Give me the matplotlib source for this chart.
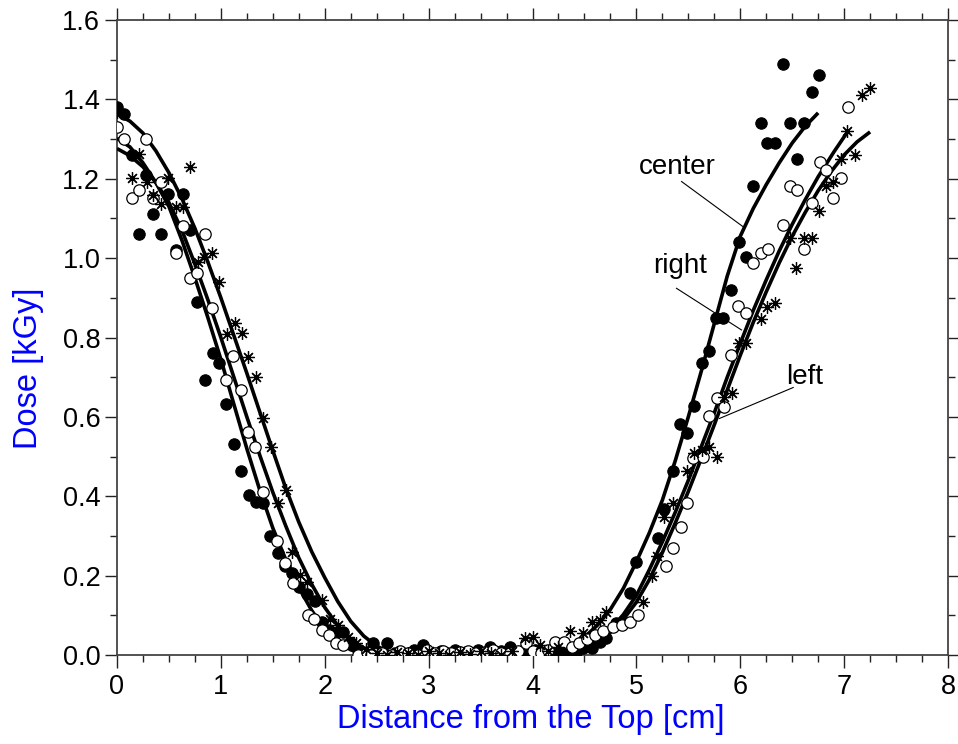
import numpy as np
import matplotlib
matplotlib.use("Agg")
import matplotlib.pyplot as plt
from matplotlib.ticker import MultipleLocator, FormatStrFormatter

plt.rcParams['font.family'] = ['Liberation Sans', 'DejaVu Sans']

# ---- fitted dose profiles ----
center_x = [0, 0.125, 0.25, 0.375, 0.5, 0.625, 0.75, 0.875, 1.0, 1.125, 1.25, 1.375, 1.5,
            1.625, 1.75, 1.875, 2.0, 2.125, 2.25, 2.375, 2.5, 2.625, 2.75, 3.0, 3.5, 4.0,
            4.125, 4.25, 4.375, 4.5, 4.625, 4.75, 4.875, 5.0, 5.125, 5.25, 5.375, 5.5, 5.625,
            5.75, 5.875, 6.0, 6.125, 6.25, 6.375, 6.5, 6.625, 6.75]
center_y = [1.363, 1.345, 1.315, 1.27, 1.215, 1.15, 1.075, 0.99, 0.9, 0.805, 0.71, 0.612, 0.515,
            0.42, 0.335, 0.26, 0.195, 0.135, 0.085, 0.048, 0.022, 0.008, 0.002, 0.0, 0.0, 0.0,
            0.003, 0.01, 0.024, 0.045, 0.075, 0.115, 0.168, 0.235, 0.308, 0.39, 0.49, 0.6, 0.715,
            0.835, 0.955, 1.055, 1.125, 1.185, 1.24, 1.29, 1.332, 1.366]

right_x = [0, 0.125, 0.25, 0.375, 0.5, 0.625, 0.75, 0.875, 1.0, 1.125, 1.25, 1.375, 1.5,
           1.625, 1.75, 1.875, 2.0, 2.125, 2.25, 2.375, 2.5, 3.0, 3.5, 4.0, 4.25, 4.375,
           4.5, 4.625, 4.75, 4.875, 5.0, 5.125, 5.25, 5.375, 5.5, 5.625, 5.75, 5.875, 6.0,
           6.125, 6.25, 6.375, 6.5, 6.625, 6.75, 6.9, 7.04]
right_y = [1.302, 1.28, 1.24, 1.19, 1.13, 1.045, 0.95, 0.85, 0.745, 0.632, 0.52, 0.415, 0.32,
           0.24, 0.17, 0.112, 0.065, 0.033, 0.013, 0.003, 0.0, 0.0, 0.0, 0.0, 0.003, 0.01,
           0.022, 0.04, 0.065, 0.102, 0.15, 0.215, 0.285, 0.36, 0.44, 0.525, 0.61, 0.70, 0.785,
           0.868, 0.945, 1.018, 1.085, 1.147, 1.205, 1.267, 1.321]

left_x = [0, 0.125, 0.25, 0.375, 0.5, 0.625, 0.75, 0.875, 1.0, 1.125, 1.25, 1.375, 1.5,
          1.625, 1.75, 1.875, 2.0, 2.125, 2.25, 2.375, 2.5, 2.625, 2.75, 3.0, 3.5, 4.0,
          4.25, 4.375, 4.5, 4.625, 4.75, 4.875, 5.0, 5.125, 5.25, 5.375, 5.5, 5.625, 5.75,
          5.875, 6.0, 6.125, 6.25, 6.375, 6.5, 6.625, 6.75, 6.875, 7.0, 7.125, 7.25]
left_y = [1.276, 1.258, 1.23, 1.19, 1.14, 1.07, 0.985, 0.895, 0.8, 0.7, 0.6, 0.503, 0.41,
          0.325, 0.245, 0.178, 0.12, 0.074, 0.04, 0.017, 0.006, 0.001, 0.0, 0.0, 0.0, 0.0,
          0.001, 0.006, 0.016, 0.033, 0.057, 0.09, 0.133, 0.19, 0.258, 0.333, 0.412, 0.495, 0.58,
          0.668, 0.755, 0.838, 0.915, 0.988, 1.055, 1.115, 1.17, 1.218, 1.26, 1.293, 1.318]

# ---- measured doses ----
# center position (filled circles)
meas_center_x = [0.0, 0.067, 0.141, 0.279, 0.35, 0.494, 0.632, 0.215, 0.423, 0.703, 0.565, 0.773,
                 0.921, 0.982, 0.844, 1.052, 1.123, 1.197, 1.267, 1.335, 1.405, 1.476, 1.546,
                 1.617, 1.687, 1.755, 1.829, 1.902, 1.973, 2.044, 2.114, 2.178, 2.249, 2.322,
                 2.467, 2.595, 2.676, 2.75, 2.8, 2.86, 2.95, 3.0, 3.05, 3.12, 3.18, 3.25, 3.3,
                 3.36, 3.42, 3.48, 3.55, 3.59, 3.65, 3.7, 3.78, 3.84, 3.9, 3.96, 4.02, 4.08,
                 4.14, 4.2, 4.28, 4.35, 4.42, 4.49, 4.57, 4.65, 4.71, 4.8, 4.94, 5.0, 5.21,
                 5.27, 5.355, 5.417, 5.49, 5.556, 5.627, 5.697, 5.765, 5.835, 5.907, 5.986,
                 6.054, 6.118, 6.195, 6.262, 6.339, 6.407, 6.477, 6.548, 6.615, 6.686, 6.757]
meas_center_y = [1.381, 1.362, 1.26, 1.209, 1.11, 1.161, 1.161, 1.061, 1.061, 1.071, 1.02, 0.89,
                 0.76, 0.735, 0.693, 0.632, 0.532, 0.464, 0.404, 0.385, 0.384, 0.301, 0.257,
                 0.224, 0.207, 0.172, 0.154, 0.137, 0.084, 0.063, 0.059, 0.057, 0.031, 0.013,
                 0.029, 0.029, 0.006, 0.005, 0.0, 0.012, 0.025, 0.008, 0.0, 0.01, 0.005, 0.012, 0.0,
                 0.008, 0.004, 0.012, 0.006, 0.019, 0.005, 0.01, 0.019, 0.006, 0.01, 0.003, 0.012, 0.005,
                 0.0, 0.008, 0.005, 0.012, 0.008, 0.017, 0.017, 0.034, 0.042, 0.08, 0.155, 0.235, 0.296,
                 0.367, 0.464, 0.582, 0.559, 0.628, 0.737, 0.766, 0.848, 0.848, 0.92, 1.041,
                 1.002, 1.182, 1.341, 1.291, 1.291, 1.49, 1.341, 1.251, 1.341, 1.419, 1.461]

# right position (open circles)
meas_right_x = [0.0, 0.07, 0.279, 0.141, 0.215, 0.42, 0.35, 0.632, 0.847, 0.565, 0.703, 0.773,
                0.918, 1.12, 1.05, 1.197, 1.261, 1.331, 1.405, 1.537, 1.617, 1.697, 1.84, 1.9,
                1.97, 2.037, 2.108, 2.178, 2.32, 2.403, 2.45, 2.55, 2.65, 2.72, 2.8, 2.9, 2.98,
                3.06, 3.14, 3.22, 3.3, 3.38, 3.46, 3.54, 3.62, 3.7, 3.78, 3.86, 3.94, 4.0, 4.08,
                4.15, 4.215, 4.3, 4.38, 4.45, 4.52, 4.6, 4.68, 4.777, 4.857, 4.937, 5.017,
                5.29, 5.348, 5.425, 5.483, 5.547, 5.637, 5.697, 5.772, 5.842, 5.907, 5.98,
                6.054, 6.124, 6.198, 6.268, 6.407, 6.477, 6.551, 6.615, 6.686, 6.766, 6.83,
                6.894, 6.97, 7.04]
meas_right_y = [1.331, 1.299, 1.299, 1.152, 1.172, 1.191, 1.152, 1.082, 1.061, 1.012, 0.951, 0.962,
                0.874, 0.754, 0.693, 0.668, 0.563, 0.523, 0.41, 0.286, 0.231, 0.181, 0.101, 0.09,
                0.063, 0.05, 0.031, 0.025, 0.0, 0.008, 0.0, 0.006, 0.0, 0.01, 0.004, 0.0, 0.012,
                0.006, 0.01, 0.004, 0.008, 0.01, 0.004, 0.008, 0.012, 0.006, 0.004, 0.01, 0.03, 0.01, 0.006,
                0.012, 0.034, 0.034, 0.02, 0.03, 0.04, 0.05, 0.06, 0.071, 0.076, 0.084, 0.101,
                0.223, 0.269, 0.322, 0.384, 0.496, 0.5, 0.601, 0.647, 0.626, 0.756, 0.879,
                0.861, 0.988, 1.014, 1.023, 1.083, 1.182, 1.172, 1.023, 1.14, 1.243, 1.222,
                1.152, 1.203, 1.381]

# left position (asterisks)
meas_left_x = [0.0, 0.215, 0.141, 0.286, 0.494, 0.703, 0.35, 0.423, 0.565, 0.632, 0.776, 0.837,
               0.914, 0.985, 1.056, 1.136, 1.2, 1.264, 1.335, 1.408, 1.479, 1.623, 1.553, 1.688,
               1.761, 1.832, 1.97, 2.05, 2.13, 2.226, 2.3, 2.4, 2.5, 2.6, 2.7, 2.8, 2.9, 3.0,
               3.1, 3.2, 3.3, 3.4, 3.5, 3.6, 3.7, 3.8, 3.927, 4.007, 4.07, 4.15, 4.25, 4.36,
               4.49, 4.57, 4.65, 4.71, 5.065, 5.15, 5.2, 5.27, 5.355, 5.483, 5.553, 5.627, 5.7,
               5.772, 5.842, 5.917, 5.99, 6.06, 6.198, 6.259, 6.333, 6.477, 6.54, 6.61, 6.686,
               6.757, 6.824, 6.894, 6.968, 7.03, 7.106, 7.176, 7.247]
meas_left_y = [1.369, 1.262, 1.201, 1.193, 1.201, 1.229, 1.159, 1.136, 1.13, 1.13, 0.991, 1.004,
               1.012, 0.941, 0.81, 0.836, 0.812, 0.752, 0.701, 0.596, 0.523, 0.417, 0.382, 0.259,
               0.202, 0.183, 0.139, 0.09, 0.076, 0.046, 0.03, 0.015, 0.005, 0.0, 0.008, 0.004, 0.0, 0.01,
               0.005, 0.0, 0.008, 0.003, 0.01, 0.005, 0.0, 0.01, 0.042, 0.046, 0.025, 0.01, 0.02, 0.061,
               0.056, 0.084, 0.088, 0.109, 0.134, 0.2, 0.25, 0.347, 0.382, 0.464, 0.51, 0.516, 0.525,
               0.5, 0.649, 0.661, 0.787, 0.785, 0.846, 0.878, 0.886, 1.05, 0.974, 1.05, 1.05,
               1.119, 1.182, 1.192, 1.251, 1.321, 1.26, 1.411, 1.429]

# curve labels: text, text position, leader line ends
labels = ["center", "right", "left"]
label_xy = [(5.39, 1.23), (5.42, 0.98), (6.62, 0.70)]
label_tip = [(6.028, 1.079), (6.012, 0.819), (5.80, 0.596)]
label_tail = [(5.435, 1.193), (5.386, 0.924), (6.51, 0.674)]

W, H = 958, 744
fig = plt.figure(figsize=(W / 100, H / 100), dpi=100)
ax = fig.add_axes([117 / W, (H - 655) / H, (948 - 117) / W, (655 - 20) / H])

lw_curve = 2.6
for cx, cy in [(center_x, center_y), (right_x, right_y), (left_x, left_y)]:
    ax.plot(cx, cy, color='black', lw=lw_curve, solid_capstyle='butt',
            solid_joinstyle='round', zorder=3)

ax.plot(meas_center_x, meas_center_y, ls='none', marker='o', ms=8.2,
        mfc='black', mec='black', mew=0.8, zorder=4)
ax.plot(meas_right_x, meas_right_y, ls='none', marker='o', ms=8.2,
        mfc='white', mec='black', mew=0.9, zorder=5)
ax.plot(meas_left_x, meas_left_y, ls='none', marker=(8, 2, 0), ms=9,
        mfc='none', mec='black', mew=0.9, zorder=6)

for txt, pos, tip, tail in zip(labels, label_xy, label_tip, label_tail):
    ax.text(pos[0], pos[1], txt, fontsize=20, ha='center', va='center', zorder=7)
    ax.plot([tail[0], tip[0]], [tail[1], tip[1]], color='black', lw=0.8, zorder=7)

ax.set_xlim(0, 8)
ax.set_ylim(0, 1.6)
ax.xaxis.set_major_locator(MultipleLocator(1))
ax.xaxis.set_minor_locator(MultipleLocator(0.25))
ax.yaxis.set_major_locator(MultipleLocator(0.2))
ax.yaxis.set_minor_locator(MultipleLocator(0.1))
ax.yaxis.set_major_formatter(FormatStrFormatter('%.1f'))
ax.xaxis.set_major_formatter(FormatStrFormatter('%d'))

for s in ax.spines.values():
    s.set_color('#444444')
    s.set_linewidth(1.3)

ax.tick_params(which='both', direction='out', top=True, right=True, color='#222222',
               labelsize=19.5, width=1.0)
ax.tick_params(which='major', length=9)
ax.tick_params(which='minor', length=5)
ax.tick_params(axis='x', pad=5)
ax.tick_params(axis='y', pad=3)

ax.set_xlabel('Distance from the Top [cm]', fontsize=23.5, color='blue')
ax.set_ylabel('Dose [kGy]', fontsize=23.5, color='blue')
ax.xaxis.label.set_va('center')
ax.yaxis.label.set_va('center')
ax.xaxis.set_label_coords(0.498, -0.102)
ax.yaxis.set_label_coords(-0.107, 0.452)

fig.savefig('out.png', dpi=100)
